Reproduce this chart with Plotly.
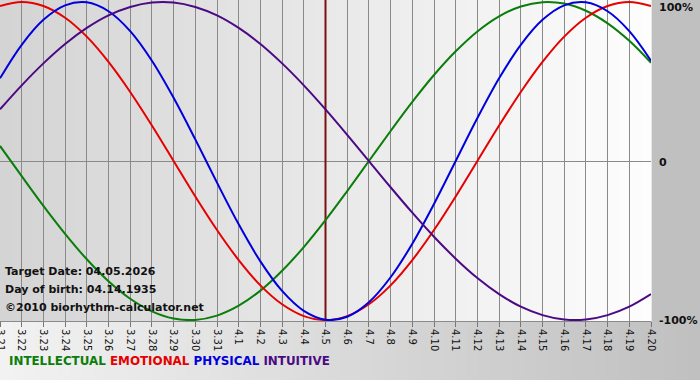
import plotly.graph_objects as go

# ---- data ----
dates = ["3.21", "3.22", "3.23", "3.24", "3.25", "3.26", "3.27", "3.28", "3.29", "3.30", "3.31",
         "4.1", "4.2", "4.3", "4.4", "4.5", "4.6", "4.7", "4.8", "4.9", "4.10",
         "4.11", "4.12", "4.13", "4.14", "4.15", "4.16", "4.17", "4.18", "4.19", "4.20"]
target_date = "4.5"

intellectual = [0.095, -0.095, -0.282, -0.458, -0.618, -0.756, -0.866, -0.945, -0.990, -0.999,
                -0.972, -0.910, -0.815, -0.690, -0.541, -0.372, -0.189, 0.0, 0.189, 0.372,
                0.541, 0.690, 0.815, 0.910, 0.972, 0.999, 0.990, 0.945, 0.866, 0.756, 0.618]
emotional = [0.975, 1.0, 0.975, 0.901, 0.782, 0.623, 0.434, 0.223, 0.0, -0.223,
             -0.434, -0.623, -0.782, -0.901, -0.975, -1.0, -0.975, -0.901, -0.782, -0.623,
             -0.434, -0.223, 0.0, 0.223, 0.434, 0.623, 0.782, 0.901, 0.975, 1.0, 0.975]
physical = [0.520, 0.731, 0.888, 0.979, 0.998, 0.942, 0.817, 0.631, 0.398, 0.136,
            -0.136, -0.398, -0.631, -0.817, -0.942, -0.998, -0.979, -0.888, -0.731, -0.520,
            -0.270, 0.0, 0.270, 0.520, 0.731, 0.888, 0.979, 0.998, 0.942, 0.817, 0.631]
intuitive = [0.325, 0.476, 0.614, 0.736, 0.837, 0.916, 0.969, 0.997, 0.997, 0.969,
             0.916, 0.837, 0.736, 0.614, 0.476, 0.325, 0.165, 0.0, -0.165, -0.325,
             -0.476, -0.614, -0.736, -0.837, -0.916, -0.969, -0.997, -0.997, -0.969, -0.916, -0.837]

y_ticks = [1, 0, -1]
y_labels = ["100%", "0", "-100%"]

series = [
    ("INTELLECTUAL", intellectual, "#0b7d0b"),
    ("EMOTIONAL", emotional, "#e60000"),
    ("PHYSICAL", physical, "#0000dd"),
    ("INTUITIVE", intuitive, "#4b0a84"),
]

W, H = 700, 380
ML, MR, MT, MB = 0, 49, 0, 59
PW, PH = W - ML - MR, H - MT - MB

x = list(range(len(dates)))
fig = go.Figure()

# target date marker
ti = dates.index(target_date)
fig.add_trace(go.Scatter(x=[ti, ti], y=[-1.1, 1.1], mode="lines",
                         line=dict(color="#7a1010", width=2), hoverinfo="skip", showlegend=False))

for name, vals, col in series:
    fig.add_trace(go.Scatter(x=x, y=vals, mode="lines", name=name,
                             line=dict(color=col, width=2, shape="spline", smoothing=1.0),
                             showlegend=False))

def lerp(c1, c2, t):
    return "#%02x%02x%02x" % tuple(round(a + (b - a) * t) for a, b in zip(c1, c2))

shapes = []
N = 60
# plot area gradient
for i in range(N):
    t = i / (N - 1)
    shapes.append(dict(type="rect", xref="paper", yref="paper", layer="below",
                       x0=i / N, x1=(i + 1) / N + 0.001, y0=0, y1=1,
                       fillcolor=lerp((212, 212, 212), (253, 253, 253), t), line=dict(width=0)))
# bottom area gradient
xr = W / PW
yb = -MB / PH
for i in range(N):
    t = i / (N - 1)
    shapes.append(dict(type="rect", xref="paper", yref="paper", layer="below",
                       x0=i * xr / N, x1=(i + 1) * xr / N + 0.002, y0=yb - 0.01, y1=0,
                       fillcolor=lerp((242, 242, 242), (192, 192, 192), t), line=dict(width=0)))

annotations = []
info = ["Target Date: 04.05.2026", "Day of birth: 04.14.1935", "\u00a92010 biorhythm-calculator.net"]
for txt, ypix in zip(info, [271, 289, 307]):
    annotations.append(dict(text="<b>%s</b>" % txt, xref="paper", yref="paper",
                            x=3 / PW, y=(PH - ypix) / PH, xanchor="left", yanchor="middle",
                            showarrow=False, font=dict(family="DejaVu Sans", size=11, color="#111111")))

legend_html = "&nbsp;".join('<span style="color:%s">%s</span>' % (c, n) for n, _, c in series)
annotations.append(dict(text="<b>%s</b>" % legend_html, xref="paper", yref="paper",
                        x=7 / PW, y=(PH - 361) / PH, xanchor="left", yanchor="middle",
                        showarrow=False, font=dict(family="DejaVu Sans", size=11.9)))

# right-hand value labels
for val, lab, dy in zip(y_ticks, y_labels, [-5, -1, 0]):
    annotations.append(dict(text="<b>%s</b>" % lab, xref="paper", yref="y",
                            x=(PW + 6) / PW, y=val, yshift=dy, xanchor="left", yanchor="middle",
                            showarrow=False, font=dict(family="DejaVu Sans", size=11, color="#111111")))

fig.update_layout(
    width=W, height=H,
    margin=dict(l=ML, r=MR, t=MT, b=MB, autoexpand=False),
    paper_bgcolor="#c0c0c0",
    plot_bgcolor="rgba(0,0,0,0)",
    shapes=shapes,
    annotations=annotations,
    showlegend=False,
    xaxis=dict(range=[0, len(dates) - 1], tickvals=x, ticktext=dates, tickangle=90,
               showgrid=True, gridcolor="#8a8a8a", gridwidth=1,
               ticks="outside", ticklen=5, tickcolor="#777777",
               showline=True, linecolor="#8a8a8a", linewidth=1,
               zeroline=False, fixedrange=True, automargin=False,
               ticklabeloverflow="allow",
               tickfont=dict(family="DejaVu Sans", size=10, color="#111111")),
    yaxis=dict(range=[-1.006, 1.0126], side="right", tickvals=y_ticks,
               showticklabels=False,
               showgrid=False, zeroline=True, zerolinecolor="#8a8a8a", zerolinewidth=1,
               ticks="", showline=False, fixedrange=True, automargin=False),
)

fig.write_html("out.html", config={"displayModeBar": False},
               post_script="document.body.style.margin='0';document.body.style.overflow='hidden';")
